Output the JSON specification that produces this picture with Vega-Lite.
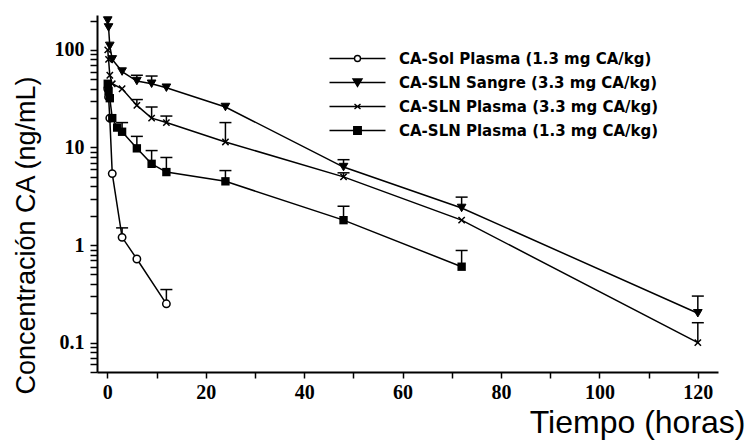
{
  "$schema": "https://vega.github.io/schema/vega-lite/v6.json",
  "width": 621,
  "height": 357,
  "autosize": {"type": "none"},
  "padding": {"left": 97, "top": 15, "right": 30, "bottom": 71},
  "background": "white",
  "config": {
    "view": {"stroke": "transparent"},
    "axis": {"domain": true, "ticks": true, "aria": true, "zindex": 1, "domainColor": "black", "tickColor": "black", "domainOpacity": 1, "tickOpacity": 1, "domainWidth": 2, "tickWidth": 1.5, "grid": false, "labelColor": "black", "titleColor": "black"}
  },
  "data": {"values": [
    {"s": "CA-Sol Plasma (1.3 mg CA/kg)", "t": 0.083, "c": 40},
    {"s": "CA-Sol Plasma (1.3 mg CA/kg)", "t": 0.25, "c": 33},
    {"s": "CA-Sol Plasma (1.3 mg CA/kg)", "t": 0.5, "c": 20},
    {"s": "CA-Sol Plasma (1.3 mg CA/kg)", "t": 1, "c": 5.4},
    {"s": "CA-Sol Plasma (1.3 mg CA/kg)", "t": 3, "c": 1.2, "up": 1.5},
    {"s": "CA-Sol Plasma (1.3 mg CA/kg)", "t": 6, "c": 0.72},
    {"s": "CA-Sol Plasma (1.3 mg CA/kg)", "t": 12, "c": 0.25, "up": 0.35},
    {"s": "CA-SLN Sangre (3.3 mg CA/kg)", "t": 0.083, "c": 200},
    {"s": "CA-SLN Sangre (3.3 mg CA/kg)", "t": 0.25, "c": 170},
    {"s": "CA-SLN Sangre (3.3 mg CA/kg)", "t": 0.5, "c": 110},
    {"s": "CA-SLN Sangre (3.3 mg CA/kg)", "t": 1, "c": 80},
    {"s": "CA-SLN Sangre (3.3 mg CA/kg)", "t": 3, "c": 60},
    {"s": "CA-SLN Sangre (3.3 mg CA/kg)", "t": 6, "c": 48, "up": 55},
    {"s": "CA-SLN Sangre (3.3 mg CA/kg)", "t": 9, "c": 45, "up": 54},
    {"s": "CA-SLN Sangre (3.3 mg CA/kg)", "t": 12, "c": 41},
    {"s": "CA-SLN Sangre (3.3 mg CA/kg)", "t": 24, "c": 26},
    {"s": "CA-SLN Sangre (3.3 mg CA/kg)", "t": 48, "c": 6.3, "up": 7.5},
    {"s": "CA-SLN Sangre (3.3 mg CA/kg)", "t": 72, "c": 2.4, "up": 3.1},
    {"s": "CA-SLN Sangre (3.3 mg CA/kg)", "t": 120, "c": 0.2, "up": 0.3},
    {"s": "CA-SLN Plasma (3.3 mg CA/kg)", "t": 0.083, "c": 100},
    {"s": "CA-SLN Plasma (3.3 mg CA/kg)", "t": 0.25, "c": 80},
    {"s": "CA-SLN Plasma (3.3 mg CA/kg)", "t": 0.5, "c": 55},
    {"s": "CA-SLN Plasma (3.3 mg CA/kg)", "t": 1, "c": 45},
    {"s": "CA-SLN Plasma (3.3 mg CA/kg)", "t": 3, "c": 40},
    {"s": "CA-SLN Plasma (3.3 mg CA/kg)", "t": 6, "c": 27, "up": 31},
    {"s": "CA-SLN Plasma (3.3 mg CA/kg)", "t": 9, "c": 20, "up": 26},
    {"s": "CA-SLN Plasma (3.3 mg CA/kg)", "t": 12, "c": 18, "up": 21},
    {"s": "CA-SLN Plasma (3.3 mg CA/kg)", "t": 24, "c": 11.4, "up": 18},
    {"s": "CA-SLN Plasma (3.3 mg CA/kg)", "t": 48, "c": 5.0, "up": 5.5},
    {"s": "CA-SLN Plasma (3.3 mg CA/kg)", "t": 72, "c": 1.8},
    {"s": "CA-SLN Plasma (3.3 mg CA/kg)", "t": 120, "c": 0.1, "up": 0.16},
    {"s": "CA-SLN Plasma (1.3 mg CA/kg)", "t": 0.083, "c": 45},
    {"s": "CA-SLN Plasma (1.3 mg CA/kg)", "t": 0.25, "c": 38},
    {"s": "CA-SLN Plasma (1.3 mg CA/kg)", "t": 0.5, "c": 32},
    {"s": "CA-SLN Plasma (1.3 mg CA/kg)", "t": 1, "c": 20},
    {"s": "CA-SLN Plasma (1.3 mg CA/kg)", "t": 2, "c": 16},
    {"s": "CA-SLN Plasma (1.3 mg CA/kg)", "t": 3, "c": 14.5, "up": 18},
    {"s": "CA-SLN Plasma (1.3 mg CA/kg)", "t": 6, "c": 9.8, "up": 13},
    {"s": "CA-SLN Plasma (1.3 mg CA/kg)", "t": 9, "c": 6.8, "up": 9.3},
    {"s": "CA-SLN Plasma (1.3 mg CA/kg)", "t": 12, "c": 5.6, "up": 7.9},
    {"s": "CA-SLN Plasma (1.3 mg CA/kg)", "t": 24, "c": 4.5, "up": 5.8},
    {"s": "CA-SLN Plasma (1.3 mg CA/kg)", "t": 48, "c": 1.8, "up": 2.5},
    {"s": "CA-SLN Plasma (1.3 mg CA/kg)", "t": 72, "c": 0.6, "up": 0.88}
  ]},
  "layer": [
    {
      "mark": {"type": "line", "color": "black", "strokeWidth": 1.5},
      "encoding": {
        "x": {
          "field": "t", "type": "quantitative",
          "scale": {"domain": [-2.1, 124.1], "nice": false, "zero": false},
          "axis": {
            "values": [0,5,10,15,20,25,30,35,40,45,50,55,60,65,70,75,80,85,90,95,100,105,110,115,120],
            "labelExpr": "datum.value % 20 == 0 ? format(datum.value, 'd') : ''",
            "tickSize": 6,
            "labelFont": "Liberation Serif", "labelFontWeight": "bold", "labelFontSize": 20,
            "labelPadding": 4,
            "title": "Tiempo (horas)",
            "titleFont": "Liberation Sans", "titleFontSize": 32, "titleFontWeight": "normal",
            "titleAlign": "right", "titleX": 648, "titleY": 60,
            "titleBaseline": "alphabetic"
          }
        },
        "y": {
          "field": "c", "type": "quantitative",
          "scale": {"type": "log", "domain": [0.05, 228], "nice": false},
          "axis": {
            "values": [0.05,0.06,0.07,0.08,0.09,0.1,0.2,0.3,0.4,0.5,0.6,0.7,0.8,0.9,1,2,3,4,5,6,7,8,9,10,20,30,40,50,60,70,80,90,100,200],
            "labelExpr": "(datum.value == 0.1 || datum.value == 1 || datum.value == 10 || datum.value == 100) ? format(datum.value, '~g') : ''",
            "tickSize": 7,
            "labelFont": "Liberation Serif", "labelFontWeight": "bold", "labelFontSize": 20,
            "labelPadding": 6,
            "title": "Concentración CA (ng/mL)",
            "titleFont": "Liberation Sans", "titleFontSize": 27, "titleFontWeight": "normal",
            "titleAngle": -90, "titleAlign": "center",
            "titleBaseline": "middle", "titleX": -71, "titleY": 220
          }
        },
        "detail": {"field": "s"}
      }
    },
    {
      "transform": [{"filter": "isValid(datum.up)"}],
      "mark": {"type": "rule", "color": "black", "strokeWidth": 1.5},
      "encoding": {
        "x": {"field": "t", "type": "quantitative"},
        "y": {"field": "c", "type": "quantitative"},
        "y2": {"field": "up"}
      }
    },
    {
      "transform": [{"filter": "isValid(datum.up)"}],
      "mark": {"type": "point", "shape": "M-1,0H1", "size": 144, "stroke": "black", "strokeWidth": 1.5, "filled": false, "opacity": 1},
      "encoding": {
        "x": {"field": "t", "type": "quantitative"},
        "y": {"field": "up", "type": "quantitative"}
      }
    },
    {
      "transform": [{"filter": "datum.s == 'CA-Sol Plasma (1.3 mg CA/kg)'"}],
      "mark": {"type": "point", "shape": "circle", "size": 55, "fill": "white", "stroke": "black", "strokeWidth": 1.5, "opacity": 1},
      "encoding": {
        "x": {"field": "t", "type": "quantitative"},
        "y": {"field": "c", "type": "quantitative"}
      }
    },
    {
      "transform": [{"filter": "datum.s == 'CA-SLN Sangre (3.3 mg CA/kg)'"}],
      "mark": {"type": "point", "shape": "triangle-down", "size": 75, "fill": "black", "stroke": "black", "strokeWidth": 1, "opacity": 1},
      "encoding": {
        "x": {"field": "t", "type": "quantitative"},
        "y": {"field": "c", "type": "quantitative"}
      }
    },
    {
      "transform": [{"filter": "datum.s == 'CA-SLN Plasma (3.3 mg CA/kg)'"}],
      "mark": {"type": "point", "shape": "M-1,-1L1,1M-1,1L1,-1", "size": 40, "fill": null, "stroke": "black", "strokeWidth": 1.5, "opacity": 1},
      "encoding": {
        "x": {"field": "t", "type": "quantitative"},
        "y": {"field": "c", "type": "quantitative"}
      }
    },
    {
      "transform": [{"filter": "datum.s == 'CA-SLN Plasma (1.3 mg CA/kg)'"}],
      "mark": {"type": "square", "size": 70, "color": "black", "opacity": 1},
      "encoding": {
        "x": {"field": "t", "type": "quantitative"},
        "y": {"field": "c", "type": "quantitative"}
      }
    },
    {
      "transform": [{"filter": "false"}],
      "mark": {"type": "point", "filled": true, "strokeWidth": 1.4, "opacity": 1},
      "encoding": {
        "x": {"field": "t", "type": "quantitative"},
        "y": {"field": "c", "type": "quantitative"},
        "shape": {
          "field": "s", "type": "nominal",
          "scale": {
            "domain": ["CA-Sol Plasma (1.3 mg CA/kg)", "CA-SLN Sangre (3.3 mg CA/kg)", "CA-SLN Plasma (3.3 mg CA/kg)", "CA-SLN Plasma (1.3 mg CA/kg)"],
            "range": [
              "M-5.6,0H-0.6M0.6,0H5.6M-0.6,0A0.6,0.6 0 1,0 0.6,0A0.6,0.6 0 1,0 -0.6,0Z",
              "M-5.6,0H5.6M-0.9,-0.7L0.9,-0.7L0,0.8Z",
              "M-5.6,0H5.6M-0.6,-0.5L0.6,0.5M-0.6,0.5L0.6,-0.5",
              "M-5.6,0H5.6M-0.75,-0.75H0.75V0.75H-0.75Z"
            ]
          },
          "legend": {
            "title": null, "orient": "none", "legendX": 253, "legendY": 36,
            "symbolSize": 100, "symbolOpacity": 1, "symbolStrokeWidth": 1.4,
            "labelOffset": 34, "labelFont": "DejaVu Sans", "labelFontWeight": "bold", "labelFontSize": 15,
            "labelColor": "black", "rowPadding": 8, "padding": 0, "labelLimit": 400
          }
        },
        "fill": {
          "field": "s", "type": "nominal",
          "scale": {
            "domain": ["CA-Sol Plasma (1.3 mg CA/kg)", "CA-SLN Sangre (3.3 mg CA/kg)", "CA-SLN Plasma (3.3 mg CA/kg)", "CA-SLN Plasma (1.3 mg CA/kg)"],
            "range": ["white", "black", "black", "black"]
          },
          "legend": {
            "title": null, "orient": "none", "legendX": 253, "legendY": 36,
            "symbolSize": 100, "symbolOpacity": 1, "symbolStrokeWidth": 1.4,
            "labelOffset": 34, "labelFont": "DejaVu Sans", "labelFontWeight": "bold", "labelFontSize": 15,
            "labelColor": "black", "rowPadding": 8, "padding": 0, "labelLimit": 400
          }
        },
        "stroke": {
          "field": "s", "type": "nominal",
          "scale": {
            "domain": ["CA-Sol Plasma (1.3 mg CA/kg)", "CA-SLN Sangre (3.3 mg CA/kg)", "CA-SLN Plasma (3.3 mg CA/kg)", "CA-SLN Plasma (1.3 mg CA/kg)"],
            "range": ["black", "black", "black", "black"]
          },
          "legend": {
            "title": null, "orient": "none", "legendX": 253, "legendY": 36,
            "symbolSize": 100, "symbolOpacity": 1, "symbolStrokeWidth": 1.4,
            "labelOffset": 34, "labelFont": "DejaVu Sans", "labelFontWeight": "bold", "labelFontSize": 15,
            "labelColor": "black", "rowPadding": 8, "padding": 0, "labelLimit": 400
          }
        }
      }
    }
  ]
}
